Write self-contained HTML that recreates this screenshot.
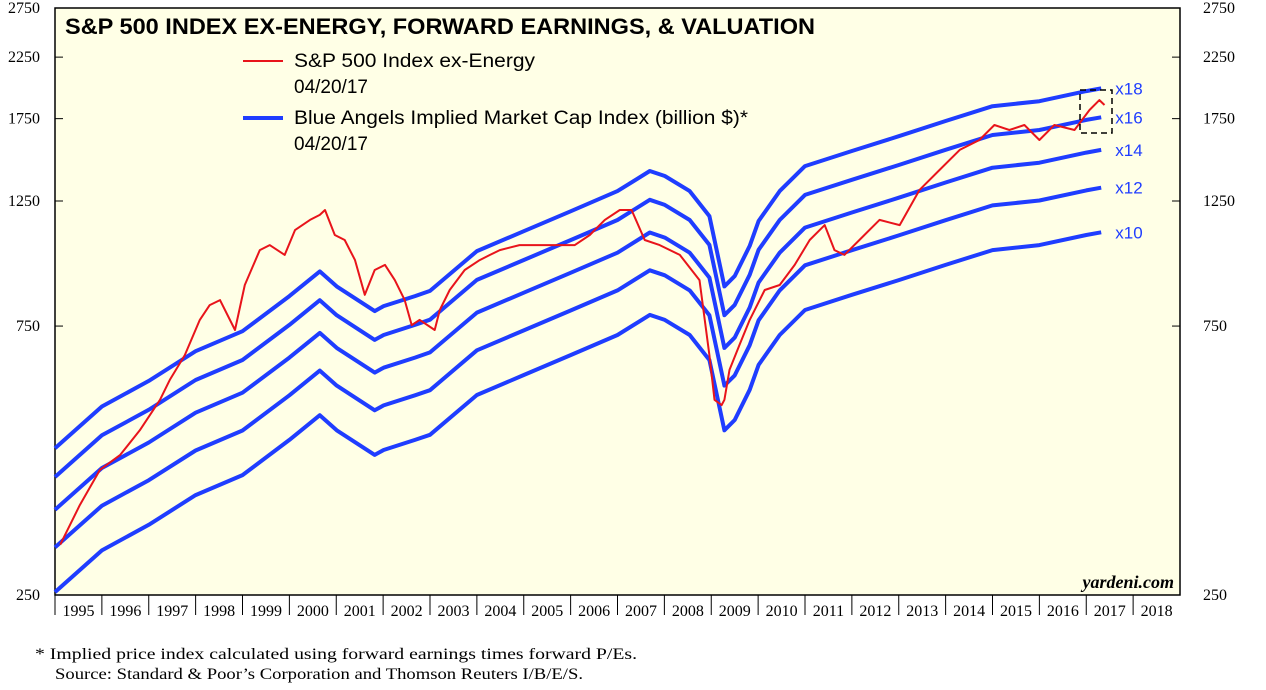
<!DOCTYPE html>
<html><head><meta charset="utf-8"><style>
body{margin:0;background:#fff;font-family:"Liberation Sans",sans-serif}
svg text{font-family:"Liberation Sans",sans-serif}
</style></head><body>
<svg width="1266" height="685" xmlns="http://www.w3.org/2000/svg">
<rect x="55" y="8" width="1125" height="587" fill="#ffffe6" stroke="#000" stroke-width="1.5"/>
<g id="axes"></g>
<g id="series"></g>
<text x="65" y="34" font-size="22" font-weight="bold" textLength="750" lengthAdjust="spacingAndGlyphs">S&amp;P 500 INDEX EX-ENERGY, FORWARD EARNINGS, &amp; VALUATION</text>
<line x1="243" y1="61" x2="283" y2="61" stroke="#e8141b" stroke-width="2"/>
<text x="294" y="67" font-size="19" textLength="241" lengthAdjust="spacingAndGlyphs">S&amp;P 500 Index ex-Energy</text>
<text x="294" y="93" font-size="19">04/20/17</text>
<line x1="243" y1="118" x2="283" y2="118" stroke="#1f3dff" stroke-width="4"/>
<text x="294" y="124" font-size="19" textLength="454" lengthAdjust="spacingAndGlyphs">Blue Angels Implied Market Cap Index (billion $)*</text>
<text x="294" y="150" font-size="19">04/20/17</text>
<rect x="1080" y="90" width="32" height="43" fill="none" stroke="#000" stroke-width="1.5" stroke-dasharray="6,4"/>
<text x="1174" y="588" font-size="18" font-style="italic" font-weight="bold" text-anchor="end" style="font-family:'Liberation Serif',serif">yardeni.com</text>
<text x="35" y="659" font-size="16" textLength="602" lengthAdjust="spacingAndGlyphs" style="font-family:'Liberation Serif',serif">*  Implied price index calculated using forward earnings times forward P/Es.</text>
<text x="55" y="679" font-size="16" textLength="528" lengthAdjust="spacingAndGlyphs" style="font-family:'Liberation Serif',serif">Source: Standard &amp; Poor’s Corporation and Thomson Reuters I/B/E/S.</text>
</svg>
<script>
const yTicks=[250,750,1250,1750,2250,2750];
const years=[1995,1996,1997,1998,1999,2000,2001,2002,2003,2004,2005,2006,2007,2008,2009,2010,2011,2012,2013,2014,2015,2016,2017,2018];
const multiples=[10,12,14,16,18];
const epsDates=[1995.0,1996,1997,1998,1999,2000,2000.65,2001.01,2001.82,2002.01,2002.68,2003,2004,2005,2006,2007,2007.69,2008.01,2008.54,2008.96,2009.28,2009.5,2009.82,2010.01,2010.46,2011,2012,2013,2014,2015,2016,2017,2017.32];
const epsValues=[25.3,30.0,33.3,37.6,40.8,47.1,52.1,49.0,44.3,45.2,47.1,48.1,56.6,61.4,66.6,72.3,78.5,76.9,72.3,65.3,49.0,51.1,57.8,64.0,72.3,80.1,85.2,90.5,96.3,102.3,104.4,108.8,110.0];
const spDates=[1995.11,1995.53,1995.96,1996.39,1996.81,1997.24,1997.45,1997.77,1998.09,1998.30,1998.52,1998.84,1999.05,1999.37,1999.58,1999.90,2000.12,2000.44,2000.65,2000.76,2000.97,2001.18,2001.40,2001.61,2001.82,2002.04,2002.25,2002.46,2002.61,2002.78,2003.10,2003.21,2003.42,2003.74,2004.06,2004.28,2004.49,2004.91,2005.34,2005.77,2006.09,2006.41,2006.73,2007.05,2007.30,2007.58,2007.90,2008.33,2008.75,2008.96,2009.07,2009.22,2009.28,2009.39,2009.60,2009.82,2010.14,2010.46,2010.78,2011.10,2011.42,2011.63,2011.84,2012.16,2012.59,2013.02,2013.44,2013.87,2014.30,2014.72,2015.04,2015.36,2015.68,2016.00,2016.32,2016.75,2017.07,2017.28,2017.39];
const spValues=[307,361,417,443,490,555,602,666,769,817,834,738,887,1023,1044,1003,1110,1157,1181,1205,1088,1066,982,852,943,963,905,834,753,769,738,801,869,943,982,1003,1023,1044,1044,1044,1044,1088,1157,1205,1205,1066,1044,1003,905,666,555,543,555,627,694,769,869,887,963,1066,1133,1023,1003,1066,1157,1133,1307,1419,1540,1604,1705,1671,1705,1604,1705,1671,1813,1888,1850];
const X0=55,X1=1180,Y0=595,Y1=8,yMin=250,yMax=2750,xMin=1995,xMax=2019;
const sx=d=>X0+(d-xMin)/(xMax-xMin)*(X1-X0);
const sy=v=>Y0-Math.log(v/yMin)/Math.log(yMax/yMin)*(Y0-Y1);
const NS="http://www.w3.org/2000/svg";
const ax=document.getElementById('axes'),se=document.getElementById('series');
function mk(p,tag,attrs){const e=document.createElementNS(NS,tag);for(const k in attrs)e.setAttribute(k,attrs[k]);p.appendChild(e);return e;}
yTicks.forEach(v=>{
 const y=sy(v);
 let t=mk(ax,'text',{x:40,y:y+5,'font-size':16,'text-anchor':'end',style:"font-family:'Liberation Serif',serif"});t.textContent=v;
 
 
 t=mk(ax,'text',{x:1203,y:y+5,'font-size':16,style:"font-family:'Liberation Serif',serif"});t.textContent=v;
 
 
 mk(ax,'line',{x1:X0,x2:X0+8,y1:y,y2:y,stroke:'#000'});
 mk(ax,'line',{x1:X1-8,x2:X1,y1:y,y2:y,stroke:'#000'});
});
years.forEach(yr=>{
 const x=sx(yr);
 mk(ax,'line',{x1:x,x2:x,y1:Y0,y2:Y0+20,stroke:'#000'});
 const t=mk(ax,'text',{x:sx(yr+0.5),y:Y0+21,'font-size':16,'text-anchor':'middle',style:"font-family:'Liberation Serif',serif"});t.textContent=yr;
 
 
});
multiples.forEach(m=>{
 const d=epsDates.map((dt,i)=>(i?'L':'M')+sx(dt).toFixed(1)+','+sy(epsValues[i]*m).toFixed(1)).join('');
 const p=mk(se,'path',{d:d,fill:'none',stroke:'#1f3dff','stroke-width':4,'stroke-linejoin':'round'});
 
 
 const last=epsValues.length-1;
 const t=mk(se,'text',{x:sx(epsDates[last])+14,y:sy(epsValues[last]*m)+6,'font-size':17,fill:'#1f3dff'});t.textContent='x'+m;
 
 
});
const rd=spDates.map((dt,i)=>(i?'L':'M')+sx(dt).toFixed(1)+','+sy(spValues[i]).toFixed(1)).join('');
const rp=mk(se,'path',{d:rd,fill:'none',stroke:'#e8141b','stroke-width':2,'stroke-linejoin':'round'});


</script>
</body></html>
